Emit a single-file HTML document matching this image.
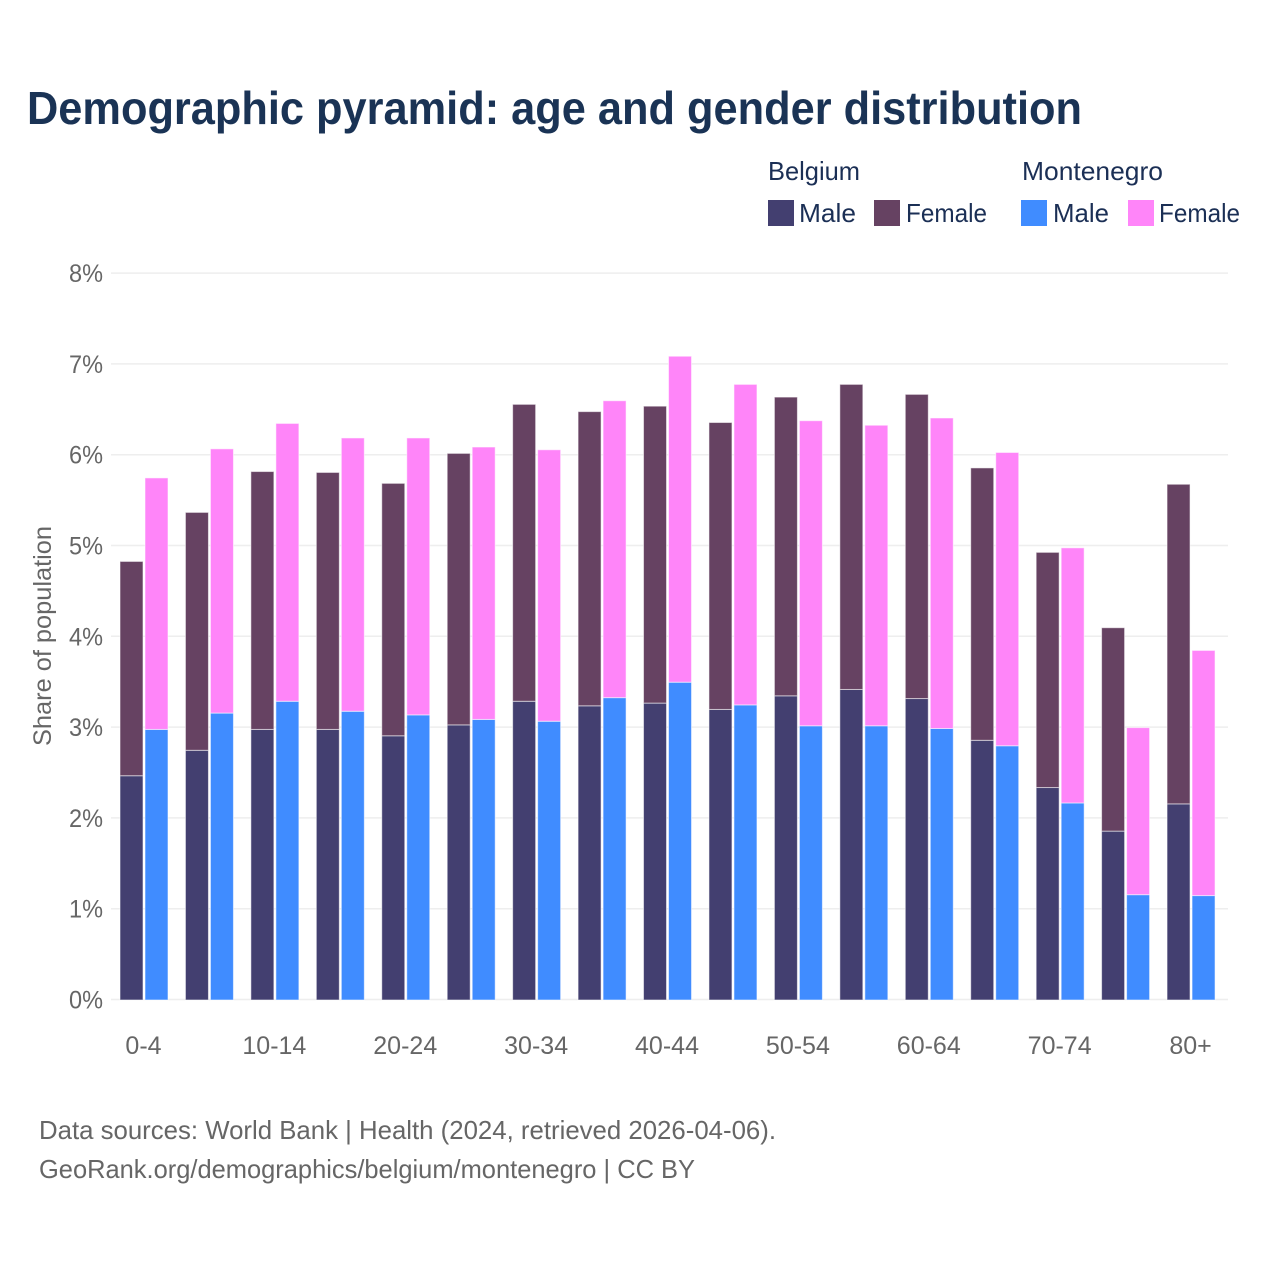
<!DOCTYPE html>
<html lang="en">
<head>
<meta charset="utf-8">
<title>Demographic pyramid: age and gender distribution</title>
<style>
  html, body { margin: 0; padding: 0; background: #fff; }
  svg { display: block; font-family: "Liberation Sans", sans-serif; }
</style>
</head>
<body>
<svg id="chart" xmlns="http://www.w3.org/2000/svg" width="1280" height="1280" viewBox="0 0 1280 1280">
  <rect width="1280" height="1280" fill="#ffffff"/>
  <text x="27" y="124" font-size="46" font-weight="700" fill="#1a3355" textLength="1055" lengthAdjust="spacingAndGlyphs">Demographic pyramid: age and gender distribution</text>

  <g font-size="26" fill="#1b2f55">
    <text x="768" y="180" textLength="92" lengthAdjust="spacingAndGlyphs">Belgium</text>
    <text x="1022" y="180" textLength="141" lengthAdjust="spacingAndGlyphs">Montenegro</text>
    <rect x="768" y="200" width="26" height="26" fill="#433f70"/>
    <text x="799" y="222" textLength="57" lengthAdjust="spacingAndGlyphs">Male</text>
    <rect x="874" y="200" width="26" height="26" fill="#664262"/>
    <text x="906" y="222" textLength="81" lengthAdjust="spacingAndGlyphs">Female</text>
    <rect x="1021" y="200" width="26" height="26" fill="#408cff"/>
    <text x="1053" y="222" textLength="56" lengthAdjust="spacingAndGlyphs">Male</text>
    <rect x="1128" y="200" width="26" height="26" fill="#ff85f9"/>
    <text x="1159" y="222" textLength="81" lengthAdjust="spacingAndGlyphs">Female</text>
  </g>

  <g id="grid"></g>
  <g id="y-axis"></g>
  <g id="bars" transform="translate(0 0.5)"></g>
  <g id="x-axis"></g>

  <text transform="translate(51 636) rotate(-90)" text-anchor="middle" font-size="25" fill="#666666" textLength="220" lengthAdjust="spacingAndGlyphs">Share of population</text>

  <g font-size="26" fill="#666666">
    <text x="39" y="1139" textLength="737" lengthAdjust="spacingAndGlyphs">Data sources: World Bank | Health (2024, retrieved 2026-04-06).</text>
    <text x="39" y="1178" textLength="656" lengthAdjust="spacingAndGlyphs">GeoRank.org/demographics/belgium/montenegro | CC BY</text>
  </g>
</svg>
<script>
const categories = ["0-4","5-9","10-14","15-19","20-24","25-29","30-34","35-39","40-44","45-49","50-54","55-59","60-64","65-69","70-74","75-79","80+"];
const xTickLabels = ["0-4","10-14","20-24","30-34","40-44","50-54","60-64","70-74","80+"];
const yTicks = [0,1,2,3,4,5,6,7,8];
const belgiumMale = [2.47,2.75,2.98,2.98,2.91,3.03,3.29,3.24,3.27,3.20,3.35,3.42,3.32,2.86,2.34,1.86,2.16];
const belgiumFemale = [2.36,2.62,2.84,2.83,2.78,2.99,3.27,3.24,3.27,3.16,3.29,3.36,3.35,3.00,2.59,2.24,3.52];
const montenegroMale = [2.98,3.16,3.29,3.18,3.14,3.09,3.07,3.33,3.50,3.25,3.02,3.02,2.99,2.80,2.17,1.16,1.15];
const montenegroFemale = [2.77,2.91,3.06,3.01,3.05,3.00,2.99,3.27,3.59,3.53,3.36,3.31,3.42,3.23,2.81,1.84,2.70];

const SVG_NS = "http://www.w3.org/2000/svg";
const barWidth = 23;
const barGap = 2;
function yScale(v) { return 999.5 - v * 90.8; }
function xScale(i) { return 120 + i * 65.44; }

const gridGroup = document.getElementById("grid");
const yAxisGroup = document.getElementById("y-axis");
const barsGroup = document.getElementById("bars");
const xAxisGroup = document.getElementById("x-axis");

yTicks.forEach(function (t) {
  const line = document.createElementNS(SVG_NS, "line");
  
  
  line.setAttribute("x1", 111);
  line.setAttribute("x2", 1228);
  line.setAttribute("y1", yScale(t));
  line.setAttribute("y2", yScale(t));
  line.setAttribute("stroke", "#eeeeee");
  line.setAttribute("stroke-width", 1.5);
  gridGroup.appendChild(line);

  const label = document.createElementNS(SVG_NS, "text");
  
  
  label.setAttribute("x", 103);
  label.setAttribute("y", yScale(t) + 9);
  label.setAttribute("text-anchor", "end");
  label.setAttribute("font-size", 25);
  label.setAttribute("fill", "#666666");
  label.setAttribute("textLength", 34);
  label.setAttribute("lengthAdjust", "spacingAndGlyphs");
  label.textContent = t + "%";
  yAxisGroup.appendChild(label);
});

function addBar(x, base, value, fill) {
  const rect = document.createElementNS(SVG_NS, "rect");
  
  
  rect.setAttribute("x", x);
  rect.setAttribute("y", yScale(base + value));
  rect.setAttribute("width", barWidth);
  rect.setAttribute("height", yScale(base) - yScale(base + value));
  rect.setAttribute("fill", fill);
  rect.setAttribute("stroke", "#ffffff");
  rect.setAttribute("stroke-opacity", "0.55");
  rect.setAttribute("stroke-width", 1);
  barsGroup.appendChild(rect);
}

categories.forEach(function (c, i) {
  const x1 = xScale(i);
  const x2 = x1 + barWidth + barGap;
  addBar(x1, 0, belgiumMale[i], "#433f70");
  addBar(x1, belgiumMale[i], belgiumFemale[i], "#664262");
  addBar(x2, 0, montenegroMale[i], "#408cff");
  addBar(x2, montenegroMale[i], montenegroFemale[i], "#ff85f9");
  if (xTickLabels.indexOf(c) !== -1) {
    const label = document.createElementNS(SVG_NS, "text");
    
    
    label.setAttribute("x", x1 + barWidth + barGap / 2 - 0.5);
    label.setAttribute("y", 1054);
    label.setAttribute("text-anchor", "middle");
    label.setAttribute("font-size", 25);
    label.setAttribute("fill", "#666666");
    label.textContent = c;
    xAxisGroup.appendChild(label);
  }
});
</script>
</body>
</html>
